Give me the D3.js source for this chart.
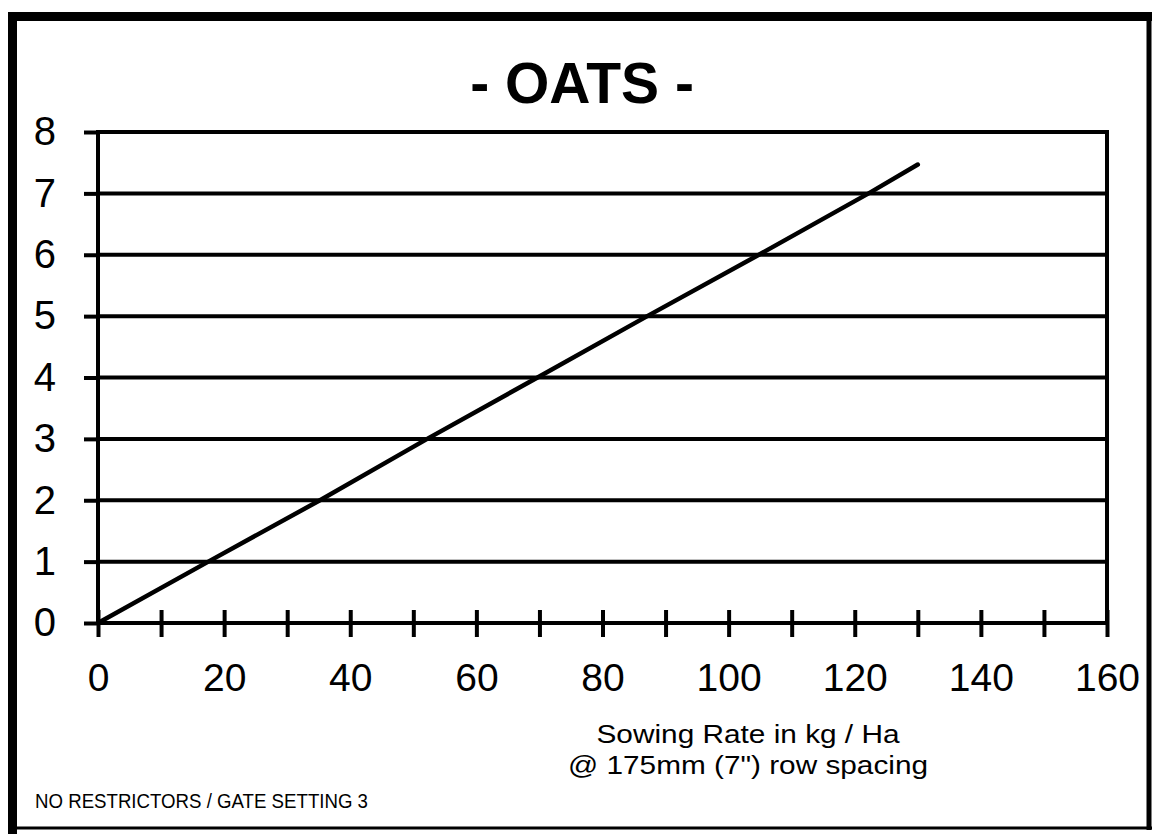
<!DOCTYPE html>
<html>
<head>
<meta charset="utf-8">
<script src="https://cdn.jsdelivr.net/npm/d3@7"></script>
<style>
  body { margin: 0; background: #fff; }
  svg { display: block; font-family: "Liberation Sans", Arial, sans-serif; }
</style>
</head>
<body>
<div id="oats_chart"></div>
<script>
// values: sowing rate (kg/Ha) vs gate setting
const sowingRate = [0, 17.5, 35.2, 52.2, 69.7, 87.1, 104.8, 122.2, 130];
const gateValue  = [0, 1, 2, 3, 4, 5, 6, 7, 7.47];
const xTicks = [0, 10, 20, 30, 40, 50, 60, 70, 80, 90, 100, 110, 120, 130, 140, 150, 160];
const yTicks = [0, 1, 2, 3, 4, 5, 6, 7, 8];

const width = 1152; const height = 834;
const margin = {top: 132, right: 45, bottom: 211, left: 98};
const innerWidth = width - margin.left - margin.right;
const innerHeight = height - margin.top - margin.bottom;

const svg = d3.select('#oats_chart')
  .append('svg')
    .attr('width', width)
    .attr('height', height);

// outer frame (scanned page border, heavier on top/left)
const frame = svg.append('g').attr('stroke', '#000').attr('fill', 'none');
frame.append('line').attr('x1', 12.5).attr('y1', 12).attr('x2', 12.5).attr('y2', 834).attr('stroke-width', 9);
frame.append('line').attr('x1', 8).attr('y1', 16.5).attr('x2', 1152).attr('y2', 16.5).attr('stroke-width', 9);
frame.append('line').attr('x1', 1149).attr('y1', 12).attr('x2', 1149).attr('y2', 830).attr('stroke-width', 5);
frame.append('line').attr('x1', 8).attr('y1', 828).attr('x2', 1152).attr('y2', 828).attr('stroke-width', 3);

// title
svg.append('text')
  .attr('x', 582)
  .attr('y', 103)
  .attr('text-anchor', 'middle')
  .attr('font-size', 57)
  .attr('font-weight', 'bold')
  .text('- OATS -');

const plotG = svg.append('g')
  .attr('transform', `translate(${margin.left}, ${margin.top})`);

const xScale = d3.scaleLinear().domain([0, 160]).range([0, innerWidth]);
const yScale = d3.scaleLinear().domain([0, 8]).range([innerHeight, 0]);

// horizontal grid lines
plotG.append('g')
  .selectAll('line')
  .data(yTicks)
  .join('line')
    .attr('x1', 0)
    .attr('x2', innerWidth)
    .attr('y1', d => yScale(d))
    .attr('y2', d => yScale(d))
    .attr('stroke', '#000')
    .attr('stroke-width', 4);

// right border of plot
plotG.append('line')
  .attr('x1', innerWidth).attr('x2', innerWidth)
  .attr('y1', yScale(8) - 2).attr('y2', innerHeight)
  .attr('stroke', '#000')
  .attr('stroke-width', 4);

// y axis
const yAxis = d3.axisLeft(yScale)
  .tickValues(yTicks)
  .tickFormat(d3.format('d'))
  .tickSize(14)
  .tickPadding(28);
const yAxisG = plotG.append('g').call(yAxis);
yAxisG.select('.domain')
  .attr('stroke-width', 4)
  .attr('d', `M0,${yScale(8) - 2}V${innerHeight}`);
yAxisG.selectAll('.tick line').attr('stroke-width', 4);
yAxisG.selectAll('.tick text')
  .attr('font-size', 40)
  .attr('font-family', '"Liberation Sans", Arial, sans-serif')
  .attr('fill', '#000');

// x axis, labels only every 20
const xAxis = d3.axisBottom(xScale)
  .tickValues(xTicks)
  .tickSize(14);
const xAxisG = plotG.append('g')
  .attr('transform', `translate(0, ${innerHeight})`)
  .call(xAxis);
xAxisG.select('.domain')
  .attr('stroke-width', 4)
  .attr('d', `M0,0H${innerWidth}`);
xAxisG.selectAll('.tick line')
  .attr('y1', -13)
  .attr('stroke-width', 4);
xAxisG.selectAll('.tick text')
  .filter(d => d % 20 !== 0)
  .remove();
xAxisG.selectAll('.tick text')
  .attr('y', 68)
  .attr('dy', 0)
  .attr('font-size', 39)
  .attr('font-family', '"Liberation Sans", Arial, sans-serif')
  .attr('fill', '#000');

// data line
const points = sowingRate.map((x, i) => [x, gateValue[i]]);
const line = d3.line()
  .x(d => xScale(d[0]))
  .y(d => yScale(d[1]));
plotG.append('path')
  .datum(points)
  .attr('d', line)
  .attr('fill', 'none')
  .attr('stroke', '#000')
  .attr('stroke-width', 4.5)
  .attr('stroke-linecap', 'round')
  .attr('stroke-linejoin', 'round');

// x axis label (two lines)
svg.append('text')
  .attr('x', 748).attr('y', 743)
  .attr('text-anchor', 'middle')
  .attr('font-size', 25)
  .attr('textLength', 303)
  .attr('lengthAdjust', 'spacingAndGlyphs')
  .text('Sowing Rate in kg / Ha');
svg.append('text')
  .attr('x', 748).attr('y', 774)
  .attr('text-anchor', 'middle')
  .attr('font-size', 25)
  .attr('textLength', 360)
  .attr('lengthAdjust', 'spacingAndGlyphs')
  .text('@ 175mm (7") row spacing');

// footnote
svg.append('text')
  .attr('x', 35).attr('y', 808)
  .attr('font-size', 21)
  .attr('textLength', 333)
  .attr('lengthAdjust', 'spacingAndGlyphs')
  .text('NO RESTRICTORS / GATE SETTING 3');
</script>
</body>
</html>
